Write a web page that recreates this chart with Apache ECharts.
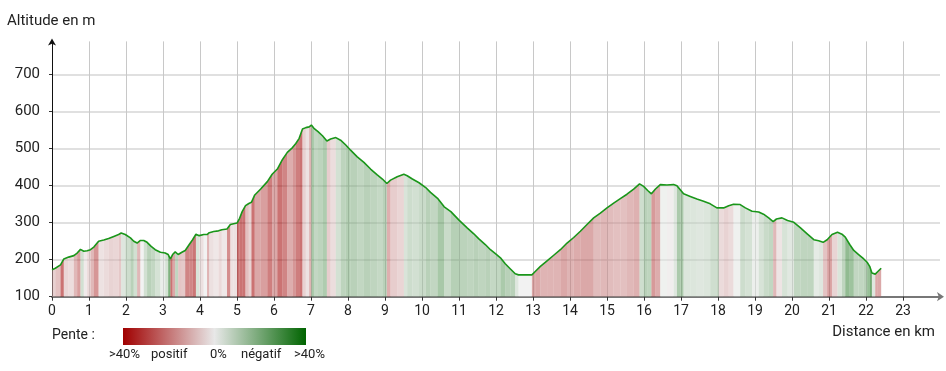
<!DOCTYPE html>
<html>
<head>
<meta charset="utf-8">
<script src="https://cdn.jsdelivr.net/npm/echarts@6/dist/echarts.min.js"></script>
<style>
html,body{margin:0;padding:0;background:#fff;}
#chart{width:946px;height:371px;}
</style>
</head>
<body>
<div id="chart"></div>
<script>
// Distance (km) and altitude (m) read from the profile
const distKm = [
  0.00,0.09,0.23,0.32,0.45,0.59,0.68,0.77,0.86,0.95,
  1.04,1.13,1.26,1.40,1.53,1.67,1.80,1.87,1.98,2.12,
  2.21,2.30,2.39,2.48,2.57,2.68,2.79,2.93,3.06,3.14,
  3.20,3.26,3.33,3.41,3.51,3.60,3.71,3.80,3.89,3.98,
  4.10,4.19,4.25,4.37,4.50,4.59,4.73,4.82,4.91,5.00,
  5.07,5.14,5.23,5.32,5.39,5.48,5.64,5.82,5.95,6.09,
  6.23,6.36,6.50,6.59,6.68,6.77,6.86,6.95,7.01,7.08,
  7.19,7.31,7.43,7.53,7.67,7.80,7.94,8.07,8.25,8.43,
  8.61,8.79,8.93,9.05,9.15,9.33,9.51,9.60,9.74,9.92,
  10.10,10.23,10.42,10.60,10.78,11.00,11.22,11.40,11.53,11.71,
  11.85,12.00,12.12,12.25,12.39,12.52,12.61,12.97,13.06,13.20,
  13.38,13.56,13.74,13.92,14.10,14.28,14.46,14.64,14.82,15.00,
  15.18,15.36,15.54,15.72,15.88,15.99,16.10,16.20,16.31,16.44,
  16.62,16.80,16.89,16.98,17.07,17.25,17.43,17.61,17.79,17.97,
  18.02,18.15,18.29,18.42,18.60,18.74,18.92,19.10,19.23,19.37,
  19.49,19.58,19.73,19.88,20.05,20.23,20.41,20.59,20.72,20.84,
  20.95,21.08,21.23,21.35,21.44,21.56,21.67,21.80,21.94,22.03,
  22.10,22.16,22.25,22.32,22.41
];
const altitudeM = [
  173,177,186,202,207,211,218,228,223,224,
  227,234,250,253,257,263,268,272,268,259,
  250,245,252,252,247,236,227,220,218,214,
  202,214,221,214,220,225,241,254,269,265,
  268,268,273,276,278,281,283,295,297,299,
  312,330,346,352,355,375,391,411,431,445,
  471,490,503,514,528,553,557,559,564,555,
  546,535,521,526,530,523,510,496,478,463,
  445,429,418,406,415,424,431,427,418,408,
  395,382,366,343,330,307,286,270,257,241,
  227,215,205,189,175,162,159,159,168,182,
  197,212,227,245,260,277,295,313,326,340,
  353,365,377,391,405,398,387,378,391,403,
  402,403,400,389,378,371,364,358,351,340,
  336,340,346,350,349,340,331,329,323,313,
  303,310,313,306,301,286,270,254,251,247,
  254,268,274,269,261,241,225,214,202,193,
  182,164,161,168,177
];
const xTicks = [0,1,2,3,4,5,6,7,8,9,10,11,12,13,14,15,16,17,18,19,20,21,22,23];
const yTicks = [100,200,300,400,500,600,700];
const legendLabels = ['>40%','positif','0%','négatif','>40%'];

const RED = [160,0,0], MID = [232,232,232], GREEN = [0,100,0];
function mix(a,b,t){return 'rgb('+a.map((v,i)=>Math.round(v+(b[i]-v)*t)).join(',')+')';}
function slopeColor(s){
  if (s >= 0) return mix(MID, RED, Math.min(1, s/17));
  return mix(MID, GREEN, Math.min(1, -s/22));
}

const segs = [];
for (let i = 0; i < distKm.length - 1; i++) {
  const dx = (distKm[i+1]-distKm[i])*1000;
  const s = (altitudeM[i+1]-altitudeM[i])/dx*100;
  segs.push([distKm[i], altitudeM[i], distKm[i+1], altitudeM[i+1], s]);
}
const lineData = distKm.map((d,i)=>[d, altitudeM[i]]);

const chart = echarts.init(document.getElementById('chart'), null, {renderer:'canvas'});
const FONT = 'Roboto';
chart.setOption({
  animation:false,
  grid:{left:52, right:6, top:41.4, bottom:74.3, containLabel:false},
  xAxis:{
    type:'value', min:0, max:24, interval:1,
    axisLine:{show:true, lineStyle:{color:'#777', width:2}, symbol:['none','arrow'], symbolSize:[7,7], symbolOffset:[0,4]},
    axisTick:{show:true, length:4, lineStyle:{color:'#333', width:1}},
    axisLabel:{show:true, margin:8, fontSize:14, color:'#222', fontFamily:FONT, showMaxLabel:false,
      formatter:v=> xTicks.indexOf(v) >= 0 ? String(v) : ''},
    splitLine:{show:true, showMinLine:false, showMaxLine:false, lineStyle:{color:'#c8c8c8', width:1}}
  },
  yAxis:{
    type:'value', min:100, max:790, interval:100,
    axisLine:{show:true, onZero:false, lineStyle:{color:'#111', width:1}, symbol:['none','arrow'], symbolSize:[6,7], symbolOffset:[0,3]},
    axisTick:{show:true, length:3, lineStyle:{color:'#333'}},
    axisLabel:{show:true, margin:12, fontSize:15, color:'#222', fontFamily:FONT, showMaxLabel:false,
      formatter:v=> yTicks.indexOf(v) >= 0 ? String(v) : ''},
    splitLine:{show:true, showMinLine:false, showMaxLine:false, lineStyle:{color:'#e0e0e0', width:2}}
  },
  series:[
    {
      type:'custom',
      data:segs,
      encode:{x:[0,2], y:[1,3]},
      clip:true,
      silent:true,
      renderItem:function(params, api){
        const p0 = api.coord([api.value(0), api.value(1)]);
        const p1 = api.coord([api.value(2), api.value(3)]);
        const b0 = api.coord([api.value(0), 100]);
        const b1 = api.coord([api.value(2), 100]);
        return {
          type:'polygon',
          shape:{points:[p0,p1,b1,b0]},
          style:{fill:slopeColor(api.value(4)), opacity:0.55, stroke:null, lineWidth:0}
        };
      },
      z:1
    },
    {
      type:'line',
      data:lineData,
      showSymbol:false,
      symbol:'none',
      lineStyle:{color:'#1a961a', width:1.6},
      z:3
    }
  ],
  graphic:[
    {type:'text', left:7, top:14, style:{text:'Altitude en m', fontSize:15, fill:'#222', fontFamily:FONT}},
    {type:'text', right:11, top:325, style:{text:'Distance en km', fontSize:15, fill:'#222', fontFamily:FONT}},
    {type:'text', left:52, top:328, style:{text:'Pente :', fontSize:14, fill:'#222', fontFamily:FONT}},
    {type:'rect', left:123, top:328, shape:{width:183, height:17},
      style:{fill:new echarts.graphic.LinearGradient(0,0,1,0,[
        {offset:0, color:'#a00000'},
        {offset:0.5, color:'#e8e8e8'},
        {offset:1, color:'#006400'}
      ])}},
    {type:'text', left:109, top:348, style:{text:legendLabels[0], fontSize:13, fill:'#222', fontFamily:FONT}},
    {type:'text', left:151, top:348, style:{text:legendLabels[1], fontSize:13, fill:'#222', fontFamily:FONT}},
    {type:'text', left:210, top:348, style:{text:legendLabels[2], fontSize:13, fill:'#222', fontFamily:FONT}},
    {type:'text', left:241, top:348, style:{text:legendLabels[3], fontSize:13, fill:'#222', fontFamily:FONT}},
    {type:'text', left:294, top:348, style:{text:legendLabels[4], fontSize:13, fill:'#222', fontFamily:FONT}}
  ]
});
</script>
</body>
</html>
